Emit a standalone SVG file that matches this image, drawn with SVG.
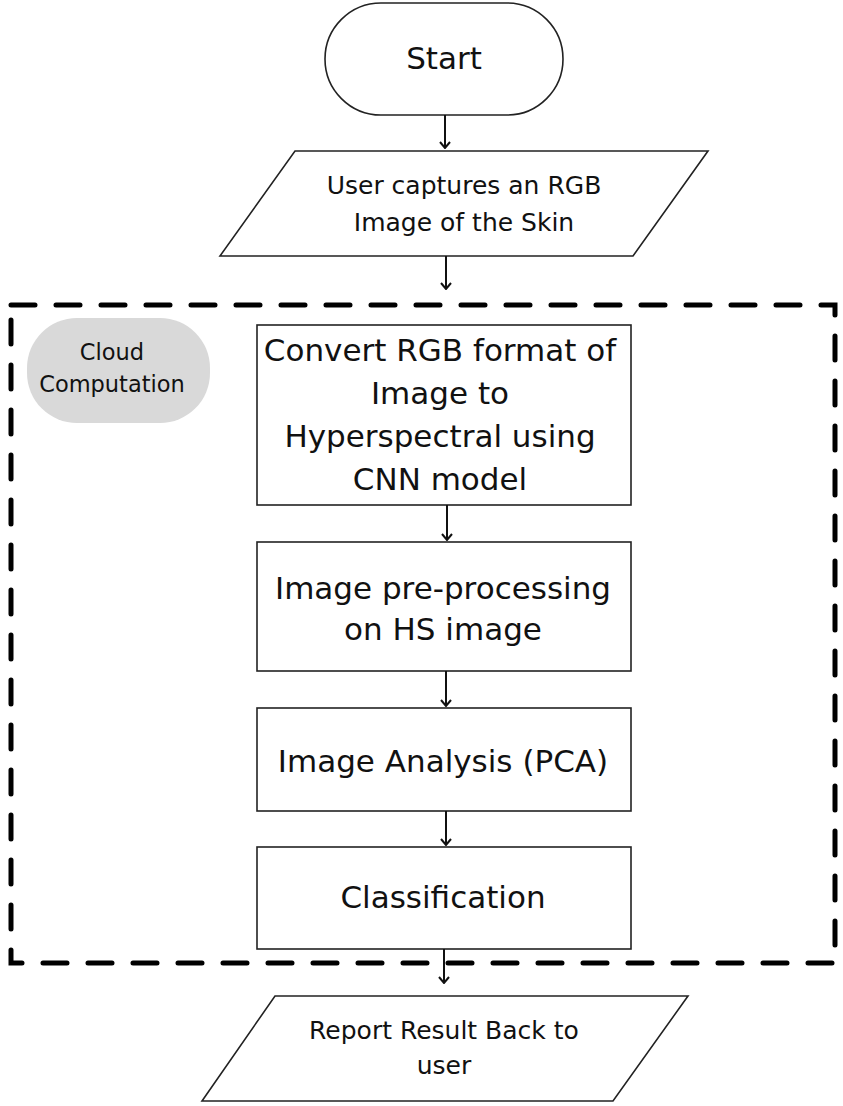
<svg xmlns="http://www.w3.org/2000/svg" width="843" height="1106" viewBox="0 0 843 1106">
<style>
.shape{fill:#fff;stroke:#222;stroke-width:1.6}
.t{font-family:"DejaVu Sans","Noto Sans",sans-serif;fill:#111;text-anchor:middle}
.big{font-size:31px}
.mid{font-size:25px}
.small{font-size:22.5px}
.edge{stroke:#111;stroke-width:2;fill:none;marker-end:url(#arr)}
</style>
<defs>
<marker id="arr" viewBox="0 0 12 12" refX="11" refY="6" markerWidth="12" markerHeight="12" markerUnits="userSpaceOnUse" orient="auto">
<path d="M5 1 L11 6 L5 11" fill="none" stroke="#111" stroke-width="2"/>
</marker>
</defs>
<rect width="843" height="1106" fill="#fff"/>
<g id="cloud-boundary">
<rect x="11" y="305" width="824" height="658" fill="none" stroke="#000" stroke-width="5" stroke-dasharray="24 21" stroke-linecap="round"/>
</g>
<g id="cloud-label">
<rect x="27" y="318" width="183" height="105" rx="50" ry="50" fill="#d9d9d9"/>
<text class="t small" x="112" y="360">Cloud</text>
<text class="t small" x="112" y="392">Computation</text>
</g>
<g id="start">
<rect class="shape" x="325" y="3" width="238" height="112" rx="56" ry="56"/>
<text class="t big" x="444" y="69">Start</text>
</g>
<g id="capture">
<polygon class="shape" points="295,151 708,151 633,256 220,256"/>
<text class="t mid" x="464" y="194">User captures an RGB</text>
<text class="t mid" x="464" y="231">Image of the Skin</text>
</g>
<g id="convert">
<rect class="shape" x="257" y="325" width="374" height="180"/>
<text class="t big" x="440" y="361">Convert RGB format of</text>
<text class="t big" x="440" y="404">Image to</text>
<text class="t big" x="440" y="447">Hyperspectral using</text>
<text class="t big" x="440" y="490">CNN model</text>
</g>
<g id="preprocess">
<rect class="shape" x="257" y="542" width="374" height="129"/>
<text class="t big" x="443" y="599">Image pre-processing</text>
<text class="t big" x="443" y="640">on HS image</text>
</g>
<g id="analysis">
<rect class="shape" x="257" y="708" width="374" height="103"/>
<text class="t big" x="443" y="772">Image Analysis (PCA)</text>
</g>
<g id="classification">
<rect class="shape" x="257" y="847" width="374" height="102"/>
<text class="t big" x="443" y="908">Classification</text>
</g>
<g id="report">
<polygon class="shape" points="275,996 688,996 613,1101 202,1101"/>
<text class="t mid" x="444" y="1039">Report Result Back to</text>
<text class="t mid" x="444" y="1074">user</text>
</g>
<g id="connectors">
<line class="edge" x1="445" y1="115" x2="445" y2="148"/>
<line class="edge" x1="446" y1="256" x2="446" y2="289"/>
<line class="edge" x1="447" y1="505" x2="447" y2="540"/>
<line class="edge" x1="446" y1="671" x2="446" y2="706"/>
<line class="edge" x1="446" y1="811" x2="446" y2="845"/>
<line class="edge" x1="444" y1="949" x2="444" y2="983"/>
</g>
</svg>
